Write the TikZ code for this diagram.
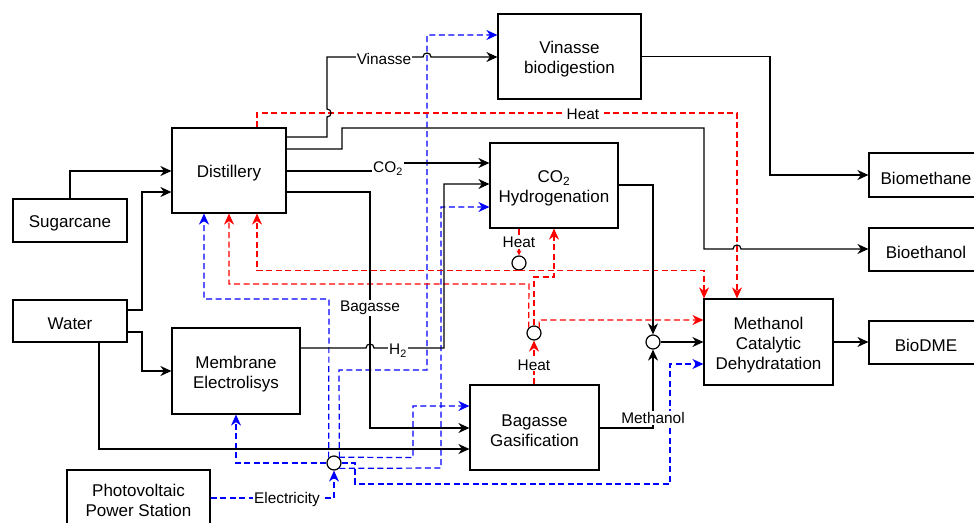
\documentclass[tikz,border=0pt]{standalone}
\usepackage{fontspec}
\setmainfont{Liberation Sans}
\usetikzlibrary{arrows.meta}
\newcommand\nodefont{\fontsize{17}{20}\selectfont}
\newcommand\lblfont{\fontsize{15.4}{18}\selectfont}
\definecolor{heatred}{RGB}{255,0,0}
\definecolor{elecblue}{RGB}{0,0,255}
\tikzset{
  box/.style={draw, line width=1.2pt, fill=white, inner sep=0pt},
  boxtext/.style={align=center, font=\nodefont, inner sep=0pt},
  junc/.style={circle, draw, line width=1.2pt, fill=white, minimum size=14pt, inner sep=0pt},
  lbl/.style={fill=white, inner sep=1pt, font=\lblfont},
  blk/.style={line width=1.2pt, black},
  heat/.style={line width=1.2pt, heatred, dash pattern=on 6pt off 3.5pt},
  elec/.style={line width=1.2pt, elecblue, dash pattern=on 6pt off 3.5pt},
  arr/.style={-{Stealth[length=11pt,width=10pt,inset=3.5pt]}},
  tinyarr/.style={-{Stealth[length=5pt,width=5pt,inset=1.5pt]}},
}
% \procbox{name}{cx}{cy}{w}{h}{text}
\newcommand\procbox[6]{%
  \node[box, minimum width=#4pt, minimum height=#5pt] (#1) at (#2,#3) {};
  \node[boxtext] (#1-t) at ([yshift=-3pt]#1.center) {#6};}
\begin{document}
\begin{tikzpicture}[x=1pt,y=-1pt]
\useasboundingbox (0,0) rectangle (974,522);
% nodes
\procbox{dist}{229}{170.5}{114}{85}{Distillery}
\procbox{vin}{569.5}{56.5}{143}{85}{Vinasse\\biodigestion}
\procbox{co2h}{554}{185.5}{128}{85}{CO\textsubscript{2}\\Hydrogenation}
\procbox{sugar}{70}{220.5}{114}{43}{Sugarcane}
\procbox{water}{70}{321}{114}{42}{Water}
\procbox{memb}{236}{371}{128}{86}{Membrane\\Electrolisys}
\procbox{pv}{138.5}{497}{143}{54}{Photovoltaic\\Power Station}
\procbox{gas}{534.5}{427.5}{129}{85}{Bagasse\\Gasification}
\procbox{mcd}{768.5}{342}{129}{86}{Methanol\\Catalytic\\Dehydratation}
\procbox{biom}{926}{175}{114}{44}{Biomethane}
\procbox{bioe}{926}{249.5}{114}{43}{Bioethanol}
\procbox{dme}{926}{342.5}{114}{43}{BioDME}
% junctions
\node[junc] (hc1) at (519,263) {};
\node[junc] (hc2) at (534,333) {};
\node[junc] (mix) at (653,342) {};
\node[junc] (ec) at (334,463) {};

% ---- electricity (blue) ----
\draw[elec,arr] (pv.east |- 0,498) -| (ec.south);
\draw[elec,arr] (ec.west) -| (memb.south -| 236,0);
\draw[elec,arr] (ec.135) -- (329,299) -- (204,299) -- (dist.south -| 204,0);
\draw[elec,arr] (ec.45) -- (339,370) -- (427,370) -- (427,35) -- (vin.west |- 0,35);
\draw[elec,arr] (ec.50) -- (413,457.6) -- (413,406) -- (gas.west |- 0,406);
\draw[elec,arr] (ec.-45) -- (441,468) -- (441,207) -- (co2h.west |- 0,207);
\draw[elec,arr] (ec.east) -- (355,463) -- (355,484) -- (670,484) -- (670,364) -- (mcd.west |- 0,364);

% ---- heat (red) ----
\draw[heat,arr] (dist.north -| 257,0) -- (257,113) -- (737,113) -- (mcd.north -| 737,0);
\draw[heat,tinyarr] (co2h.south -| 519,0) -- (hc1.north);
\draw[heat,arr] (hc1.south) -| (dist.south -| 257,0);
\draw[heat,arr] (hc1.south) -| (mcd.north -| 704,0);
\draw[heat,arr] (gas.north -| 534,0) -- (hc2.south);
\draw[heat,arr] (hc2.north) -- (534,277) -- (554,277) -- (co2h.south -| 554,0);
\draw[heat,arr] (hc2.135) -- (529,284) -- (229,284) -- (dist.south -| 229,0);
\draw[heat,arr] (hc2.45) -- (539,320) -- (mcd.west |- 0,320);

% ---- material (black) ----
\draw[blk,arr] (sugar.north) |- (dist.west |- 0,171);
\draw[blk,arr] (water.east |- 0,310) -- (142,310) |- (dist.west |- 0,192);
\draw[blk,arr] (water.east |- 0,332) -- (142,332) |- (memb.west);
\draw[blk,arr] (water.south -| 99,0) |- (gas.west |- 0,449);
\draw[blk,arr] (dist.east |- 0,137) -- (327,137) -- (327,117)
   .. controls (332.3,117) and (332.3,109) .. (327,109) -- (327,57) -- (423,57)
   .. controls (423,51.7) and (431,51.7) .. (431,57) -- (vin.west |- 0,57);
\draw[blk,arr] (dist.east |- 0,149) -- (342,149) -- (342,128) -- (704,128) -- (704,249) -- (733,249)
   .. controls (733,243.7) and (741,243.7) .. (741,249) -- (bioe.west |- 0,249);
\draw[blk,arr] (dist.east |- 0,171) -- (388,171) -- (388,163) -- (co2h.west |- 0,163);
\draw[blk,arr] (dist.east |- 0,192) -- (370,192) -- (370,428) -- (gas.west |- 0,428);
\draw[blk,arr] (memb.east |- 0,348) -- (366,348)
   .. controls (366,342.7) and (374,342.7) .. (374,348) -- (444,348) -- (444,184) -- (co2h.west |- 0,184);
\draw[blk,arr] (vin.east) -- (770,56.5) |- (biom.west);
\draw[blk,arr] (co2h.east |- 0,185) -| (mix.north);
\draw[blk,arr] (gas.east |- 0,428) -| (mix.south);
\draw[blk,arr] (mix.east) -- (mcd.west |- mix.east);
\draw[blk,arr] (mcd.east) -- (dme.west |- mcd.east);

% ---- labels ----
\node[lbl] (lvin) at (384,58.5) {Vinasse};
\node[lbl] (lco2) at (388,168.5) {CO\textsubscript{2}};
\node[lbl] (lbag) at (370,308) {Bagasse};
\node[lbl] (lh2) at (398,350.5) {H\textsubscript{2}};
\node[lbl] (lheat1) at (583,114.5) {Heat};
\node[lbl] (lheat2) at (519,242.5) {Heat};
\node[lbl] (lheat3) at (534,365) {Heat};
\node[lbl] (lmeth) at (653,418) {Methanol};
\node[lbl] (lelec) at (287,500) {Electricity};
\end{tikzpicture}
\end{document}
